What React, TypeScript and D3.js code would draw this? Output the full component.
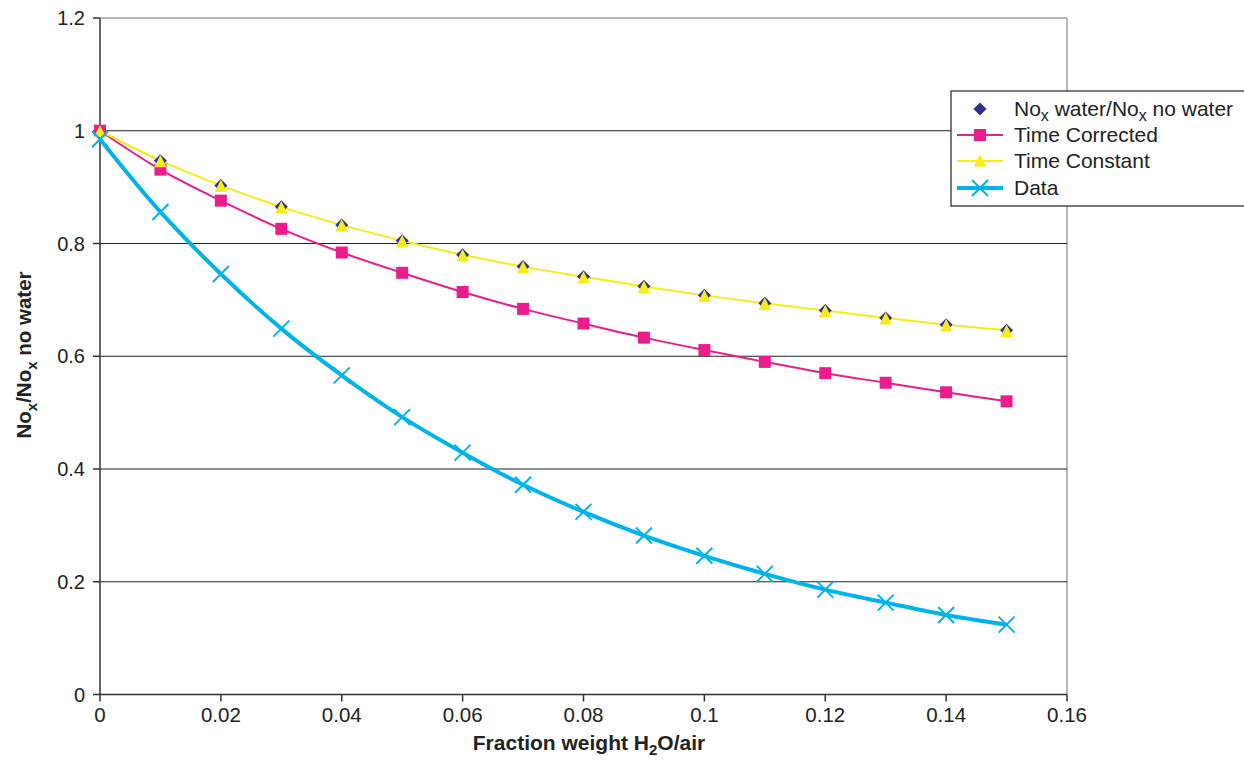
import React from "react";
import * as d3 from "d3";

const xValues = [0, 0.01, 0.02, 0.03, 0.04, 0.05, 0.06, 0.07, 0.08, 0.09, 0.1, 0.11, 0.12, 0.13, 0.14, 0.15];
const ratioNoWater = [1.0, 0.947, 0.903, 0.865, 0.833, 0.805, 0.780, 0.759, 0.741, 0.724, 0.708, 0.694, 0.681, 0.668, 0.656, 0.646];
const timeCorrected = [1.0, 0.931, 0.876, 0.826, 0.784, 0.748, 0.714, 0.684, 0.658, 0.633, 0.611, 0.590, 0.570, 0.553, 0.536, 0.520];
const timeConstant = [1.0, 0.947, 0.903, 0.865, 0.833, 0.805, 0.780, 0.759, 0.741, 0.724, 0.708, 0.694, 0.681, 0.668, 0.656, 0.646];
const dataSeries = [0.985, 0.856, 0.746, 0.649, 0.566, 0.492, 0.429, 0.372, 0.324, 0.282, 0.246, 0.214, 0.186, 0.163, 0.141, 0.124];

const xTicks = [0, 0.02, 0.04, 0.06, 0.08, 0.1, 0.12, 0.14, 0.16];
const yTicks = [0, 0.2, 0.4, 0.6, 0.8, 1, 1.2];

const W = 1244;
const H = 761;
const L = 100, R = 1067, T = 18, B = 694.5;

const NAVY = "#2E3192";
const PINK = "#EC1C8C";
const YELLOW = "#F7EC1A";
const CYAN = "#00B4EA";
const FONT = "'Liberation Sans', Arial, sans-serif";

export default function App() {
  const x = d3.scaleLinear().domain([0, 0.16]).range([L, R]);
  const y = d3.scaleLinear().domain([0, 1.2]).range([B, T]);
  const line = (vals: number[]) =>
    d3.line<number>().x((_, i) => x(xValues[i])).y((v) => y(v)).curve(d3.curveCatmullRom.alpha(0.5))(vals) || "";

  const diamond = (cx: number, cy: number, r: number, key: string) => (
    <path key={key} d={`M${cx},${cy - r}L${cx + r},${cy}L${cx},${cy + r}L${cx - r},${cy}Z`} fill={NAVY} />
  );
  const square = (cx: number, cy: number, s: number, key: string) => (
    <rect key={key} x={cx - s / 2} y={cy - s / 2} width={s} height={s} fill={PINK} />
  );
  const tri = (cx: number, cy: number, s: number, key: string) => (
    <path key={key} d={`M${cx},${cy - s * 0.55}L${cx + s / 2},${cy + s * 0.45}L${cx - s / 2},${cy + s * 0.45}Z`} fill={YELLOW} />
  );
  const cross = (cx: number, cy: number, s: number, key: string) => (
    <path key={key} d={`M${cx - s},${cy - s}L${cx + s},${cy + s}M${cx - s},${cy + s}L${cx + s},${cy - s}`} stroke={CYAN} strokeWidth={2} fill="none" />
  );

  const legendRows = [
    { y: 109, kind: "diamond" },
    { y: 135, kind: "square" },
    { y: 161, kind: "tri" },
    { y: 188, kind: "cross" },
  ];

  return (
    <svg width={W} height={H} style={{ position: "absolute", left: 0, top: 0, background: "#fff" }} fontFamily={FONT}>
      <rect x={0} y={0} width={W} height={H} fill="#fff" />
      {/* plot border (gray) */}
      <line x1={L} x2={R} y1={T} y2={T} stroke="#a0a0a0" strokeWidth={1.5} />
      <line x1={R} x2={R} y1={T} y2={B} stroke="#a0a0a0" strokeWidth={1.5} />
      {/* gridlines */}
      {yTicks.filter((t) => t > 0 && t < 1.2).map((t) => (
        <line key={"g" + t} x1={L} x2={R} y1={y(t)} y2={y(t)} stroke="#222" strokeWidth={1} />
      ))}
      {/* axes */}
      <line x1={L} x2={L} y1={T} y2={B} stroke="#333" strokeWidth={1.5} />
      <line x1={L} x2={R} y1={B} y2={B} stroke="#333" strokeWidth={1.5} />
      {yTicks.map((t) => (
        <g key={"yt" + t}>
          <line x1={L - 7} x2={L} y1={y(t)} y2={y(t)} stroke="#333" strokeWidth={1.5} />
          <text x={L - 15} y={y(t)} dy="0.36em" textAnchor="end" fontSize={20} fill="#222">{String(t)}</text>
        </g>
      ))}
      {xTicks.map((t) => (
        <g key={"xt" + t}>
          <line x1={x(t)} x2={x(t)} y1={B} y2={B + 7} stroke="#333" strokeWidth={1.5} />
          <text x={x(t)} y={722} textAnchor="middle" fontSize={20.5} fill="#222">{String(t)}</text>
        </g>
      ))}
      {/* axis titles */}
      <text x={589} y={750} textAnchor="middle" fontSize={21} fontWeight="bold" fill="#222">
        Fraction weight H<tspan fontSize={15} dy={5}>2</tspan><tspan dy={-5}>O/air</tspan>
      </text>
      <text transform={`translate(31,355) rotate(-90)`} textAnchor="middle" fontSize={20.5} fontWeight="bold" fill="#222">
        No<tspan fontSize={15} dy={6}>x</tspan><tspan dy={-6}>/No</tspan><tspan fontSize={15} dy={6}>x</tspan><tspan dy={-6}> no water</tspan>
      </text>

      {/* series lines */}
      <path d={line(timeCorrected)} fill="none" stroke={PINK} strokeWidth={2} />
      <path d={line(timeConstant)} fill="none" stroke={YELLOW} strokeWidth={2} />
      <path d={line(dataSeries)} fill="none" stroke={CYAN} strokeWidth={4} />
      {/* markers */}
      {ratioNoWater.map((v, i) => diamond(x(xValues[i]), y(v), 6.5, "d" + i))}
      {timeCorrected.map((v, i) => square(x(xValues[i]), y(v), 12, "s" + i))}
      {timeConstant.map((v, i) => tri(x(xValues[i]), y(v) + 1, 12.5, "t" + i))}
      {dataSeries.map((v, i) => cross(x(xValues[i]), y(v), 8, "c" + i))}

      {/* legend */}
      <rect x={951} y={91} width={300} height={115} fill="#fff" stroke="#222" strokeWidth={1.2} />
      {legendRows.map((r) => {
        const cx = 980;
        if (r.kind === "diamond") return <g key={r.kind}>{diamond(cx, r.y, 6.5, "ld")}</g>;
        if (r.kind === "square")
          return <g key={r.kind}><line x1={957} x2={1003} y1={r.y} y2={r.y} stroke={PINK} strokeWidth={2} />{square(cx, r.y, 12, "ls")}</g>;
        if (r.kind === "tri")
          return <g key={r.kind}><line x1={957} x2={1003} y1={r.y} y2={r.y} stroke={YELLOW} strokeWidth={2} />{tri(cx, r.y, 12.5, "lt")}</g>;
        return <g key={r.kind}><line x1={957} x2={1003} y1={r.y} y2={r.y} stroke={CYAN} strokeWidth={4} />{cross(cx, r.y, 8, "lc")}</g>;
      })}
      <text x={1014} y={109} dy="0.35em" fontSize={21} fill="#222">
        No<tspan fontSize={16} dy={5}>x</tspan><tspan dy={-5}> water/No</tspan><tspan fontSize={16} dy={5}>x</tspan><tspan dy={-5}> no water</tspan>
      </text>
      <text x={1014} y={135} dy="0.35em" fontSize={21} fill="#222">Time Corrected</text>
      <text x={1014} y={161} dy="0.35em" fontSize={21} fill="#222">Time Constant</text>
      <text x={1014} y={188} dy="0.35em" fontSize={21} fill="#222">Data</text>
    </svg>
  );
}
